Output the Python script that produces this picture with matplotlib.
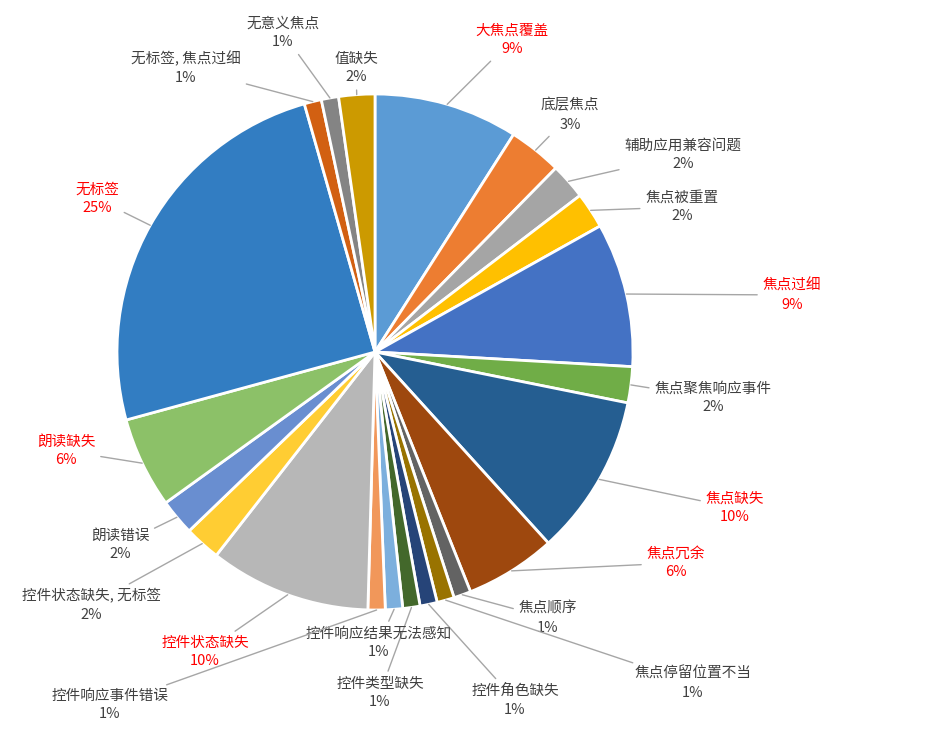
import matplotlib
matplotlib.use("Agg")
import matplotlib.pyplot as plt
import numpy as np

plt.rcParams['font.family'] = ['Noto Sans CJK SC', 'DejaVu Sans']

labels = ["大焦点覆盖", "底层焦点", "辅助应用兼容问题", "焦点被重置", "焦点过细", "焦点聚焦响应事件",
          "焦点缺失", "焦点冗余", "焦点顺序", "焦点停留位置不当", "控件角色缺失", "控件类型缺失",
          "控件响应结果无法感知", "控件响应事件错误", "控件状态缺失", "控件状态缺失, 无标签",
          "朗读错误", "朗读缺失", "无标签", "无标签, 焦点过细", "无意义焦点", "值缺失"]
values = [9.2, 3.4, 2.3, 2.3, 9.2, 2.3, 10.3, 5.8, 1.1, 1.1, 1.1, 1.1, 1.1, 1.1,
          10.3, 2.3, 2.3, 5.8, 25.3, 1.1, 1.1, 2.3]
pct_labels = ["9%", "3%", "2%", "2%", "9%", "2%", "10%", "6%", "1%", "1%", "1%", "1%",
              "1%", "1%", "10%", "2%", "2%", "6%", "25%", "1%", "1%", "2%"]
highlight = ["大焦点覆盖", "焦点过细", "焦点缺失", "焦点冗余", "控件状态缺失", "朗读缺失", "无标签"]
colors = ["#5B9BD5", "#ED7D31", "#A5A5A5", "#FFC000", "#4472C4", "#70AD47", "#255E91",
          "#9E480E", "#636363", "#997300", "#264478", "#43682B", "#7CAFDD", "#F1975A",
          "#B7B7B7", "#FFCD33", "#698ED0", "#8CC168", "#327DC2", "#D26012", "#848484", "#CC9A00"]
# label centres in pixels of the 949x731 picture
label_px = [(512, 40), (570, 115), (683, 155), (682, 207), (792, 295), (713, 398),
            (735, 508), (676, 563), (548, 618), (693, 683), (515, 700), (380, 693),
            (379, 643), (110, 705), (205, 652), (91, 605), (120, 545), (66, 451),
            (97, 199), (186, 68), (283, 33), (356, 68)]

W, H = 949, 731
cx, cy, R = 375, 352, 258

fig = plt.figure(figsize=(W / 100, H / 100), dpi=100)
ax = fig.add_axes([0, 0, 1, 1])

wedges, _ = ax.pie(values, colors=colors, startangle=90, counterclock=False, radius=1.0,
                   wedgeprops=dict(edgecolor='white', linewidth=2))
ax.set_xlim(-cx / R, (W - cx) / R)
ax.set_ylim((cy - H) / R, cy / R)
ax.set_aspect('equal')
ax.axis('off')

for w, lab, pct, (px, py) in zip(wedges, labels, pct_labels, label_px):
    ang = np.deg2rad((w.theta1 + w.theta2) / 2)
    x0, y0 = np.cos(ang), np.sin(ang)
    lx, ly = (px - cx) / R, (cy - py) / R
    col = 'red' if lab in highlight else '#404040'
    ax.annotate(lab + "\n" + pct, xy=(x0, y0), xytext=(lx, ly), ha='center', va='center',
                fontsize=10.5, color=col, linespacing=1.45,
                arrowprops=dict(arrowstyle='-', color='#A6A6A6', lw=1, shrinkA=2, shrinkB=0))

fig.savefig("out.png", dpi=100)
